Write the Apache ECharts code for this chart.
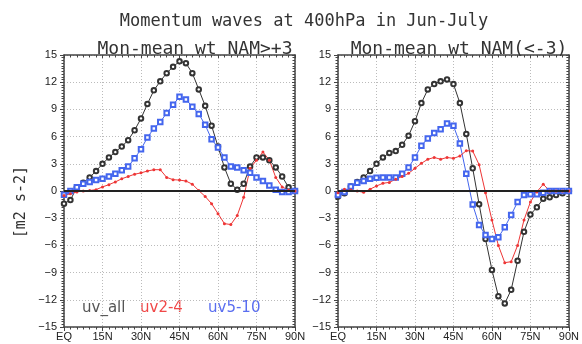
<!DOCTYPE html>
<html>
<head>
<meta charset="utf-8">
<title>Momentum waves at 400hPa</title>
<script src="https://cdn.jsdelivr.net/npm/echarts@6/dist/echarts.min.js"></script>
<style>
  html, body { margin: 0; padding: 0; background: #fff; }
  #chart { width: 582px; height: 344px; }
</style>
</head>
<body>
<div id="chart"></div>
<script>
// latitudes (2.5 deg grid)
var lats = [0, 2.5, 5, 7.5, 10, 12.5, 15, 17.5, 20, 22.5, 25, 27.5, 30, 32.5, 35, 37.5, 40, 42.5, 45,
  47.5, 50, 52.5, 55, 57.5, 60, 62.5, 65, 67.5, 70, 72.5, 75, 77.5, 80, 82.5, 85, 87.5, 90]
var xTickLabels = ['EQ', '15N', '30N', '45N', '60N', '75N', '90N']
var yTicks = [-15, -12, -9, -6, -3, 0, 3, 6, 9, 12, 15]

// left panel: NAM > +3
var posAll = [-1.4, -1.0, 0.4, 0.9, 1.5, 2.2, 3.0, 3.7, 4.3, 4.9, 5.6, 6.7, 8.0, 9.6, 11.1, 12.1, 13.0, 13.7, 14.3,
  14.1, 13.0, 11.2, 9.4, 7.2, 4.9, 2.6, 0.8, 0.15, 0.8, 2.7, 3.7, 3.7, 3.4, 2.6, 1.6, 0.4, 0]
var pos24 = [-0.5, -0.3, -0.1, 0, 0.05, 0.15, 0.45, 0.7, 1.0, 1.35, 1.6, 1.85, 2.0, 2.2, 2.35, 2.35, 1.5, 1.25, 1.2,
  1.1, 0.75, 0.05, -0.6, -1.4, -2.5, -3.6, -3.7, -2.7, -0.7, 2.5, 3.4, 4.3, 3.4, 1.5, 0.45, 0.1, 0]
var pos510 = [-0.4, 0, 0.4, 0.8, 1.0, 1.2, 1.35, 1.6, 1.9, 2.3, 2.7, 3.6, 4.6, 5.9, 6.9, 7.6, 8.6, 9.5, 10.4,
  10.1, 9.3, 8.5, 7.3, 5.7, 4.8, 3.7, 2.7, 2.6, 2.3, 2.0, 1.5, 1.1, 0.6, 0.15, -0.1, -0.1, 0]

// right panel: NAM < -3
var negAll = [-0.6, -0.25, 0.5, 1.0, 1.5, 2.2, 3.0, 3.7, 4.2, 4.4, 5.1, 6.1, 7.7, 9.7, 11.2, 11.8, 12.1, 12.3, 11.8,
  9.7, 6.3, 2.5, -1.45, -5.3, -8.7, -11.6, -12.4, -10.9, -7.7, -4.5, -2.6, -1.8, -0.85, -0.7, -0.45, -0.25, 0]
var neg24 = [-0.2, 0.2, 0.1, 0, -0.15, 0.2, 0.55, 0.85, 0.95, 1.3, 1.6, 1.95, 2.5, 3.05, 3.5, 3.7, 3.5, 3.7, 3.6,
  3.85, 4.45, 4.4, 2.9, -0.2, -3.2, -6.0, -7.9, -7.8, -6.0, -3.2, -1.2, -0.1, 0.75, 0, 0, 0, 0]
var neg510 = [-0.45, -0.1, 0.5, 0.9, 1.1, 1.35, 1.45, 1.5, 1.5, 1.5, 1.9, 2.6, 3.7, 5.0, 5.8, 6.4, 6.8, 7.45, 7.2,
  5.25, 1.9, -1.5, -3.75, -4.85, -5.3, -5.1, -4.0, -2.65, -1.2, -0.45, -0.35, -0.35, -0.2, 0, 0, 0, 0]

var myChart = echarts.init(document.getElementById('chart'))

var titleFont = 'DejaVu Sans Mono'
var fontFam = 'DejaVu Sans'
var axisColor = '#444'
var gridColor = '#bbb'
var cAll = '#333333', c24 = '#ee3535', c510 = '#4466ee'

function pairs(vals) {
  return lats.map(function (lat, i) { return [lat, vals[i]] })
}

function xAx(gi, top) {
  return {
    type: 'value', gridIndex: gi, min: 0, max: 90, interval: 15,
    position: top ? 'top' : 'bottom',
    axisLine: { show: true, onZero: false, lineStyle: { color: axisColor, width: 1.5 } },
    axisTick: { show: true, inside: !!top, length: top ? 3 : 4, lineStyle: { color: axisColor } },
    minorTick: { show: true, splitNumber: 6, length: 2.5, lineStyle: { color: axisColor } },
    axisLabel: {
      show: !top, margin: 4, color: '#222', fontFamily: 'Liberation Sans', fontSize: 11,
      formatter: function (v) { return xTickLabels[Math.round(v / 15)] }
    },
    splitLine: { show: !top, lineStyle: { color: gridColor, type: [1, 2] } }
  }
}

function yAx(gi, right) {
  return {
    type: 'value', gridIndex: gi, min: -15, max: 15, interval: 3,
    position: right ? 'right' : 'left',
    axisLine: { show: true, onZero: false, lineStyle: { color: axisColor, width: 1.5 } },
    axisTick: { show: true, inside: !!right, length: right ? 3 : 4, lineStyle: { color: axisColor } },
    minorTick: { show: true, splitNumber: 10, length: 2.5, lineStyle: { color: axisColor } },
    axisLabel: {
      show: !right, margin: 7, color: '#222', fontFamily: 'Liberation Sans', fontSize: 11,
      formatter: function (v) { return yTicks.indexOf(v) >= 0 ? String(v).replace('-', '\u2212') : '' }
    },
    splitLine: { show: !right, lineStyle: { color: gridColor, type: [1, 2] } }
  }
}

function panelSeries(ax, all, w24, w510) {
  var base = { type: 'line', xAxisIndex: ax, yAxisIndex: ax, animation: false, lineStyle: { width: 1 } }
  return [
    Object.assign({}, base, {
      name: 'uv_all', data: pairs(all), color: cAll, symbol: 'emptyCircle', symbolSize: 4.5,
      itemStyle: { borderWidth: 1 },
      markLine: {
        silent: true, symbol: 'none', label: { show: false },
        lineStyle: { color: '#222', width: 2, type: 'solid' },
        data: [{ yAxis: 0 }]
      }
    }),
    Object.assign({}, base, {
      name: 'uv5-10', data: pairs(w510), color: c510, symbol: 'emptyRect', symbolSize: 4.5,
      itemStyle: { borderWidth: 1 }
    }),
    Object.assign({}, base, { name: 'uv2-4', data: pairs(w24), color: c24, symbol: 'circle', symbolSize: 3 })
  ]
}

var option = {
  backgroundColor: '#fff',
  title: [
    { text: 'Momentum waves at 400hPa in Jun-July', left: 299, top: 8, textAlign: 'center',
      textStyle: { fontFamily: titleFont, fontSize: 17, fontWeight: 'normal', color: '#333' } },
    { text: 'Mon-mean wt NAM>+3', left: 190, top: 35, textAlign: 'center',
      textStyle: { fontFamily: titleFont, fontSize: 18, fontWeight: 'normal', color: '#333' } },
    { text: 'Mon-mean wt NAM(<-3)', left: 454, top: 35, textAlign: 'center',
      textStyle: { fontFamily: titleFont, fontSize: 18, fontWeight: 'normal', color: '#333' } }
  ],
  grid: [
    { left: 64, top: 55, width: 231, height: 272 },
    { left: 338, top: 55, width: 231, height: 272 }
  ],
  xAxis: [xAx(0, false), xAx(1, false), xAx(0, true), xAx(1, true)],
  yAxis: [yAx(0, false), yAx(1, false), yAx(0, true), yAx(1, true)],
  graphic: [
    { type: 'text', left: 14, top: 166, rotation: Math.PI / 2,
      style: { text: '[m2 s-2]', fontFamily: titleFont, fontSize: 15, fill: '#333' } },
    { type: 'text', left: 82, top: 301, style: { text: 'uv_all', fontFamily: fontFam, fontSize: 15, fill: '#555' } },
    { type: 'text', left: 140, top: 301, style: { text: 'uv2-4', fontFamily: fontFam, fontSize: 15, fill: '#f04848' } },
    { type: 'text', left: 208, top: 301, style: { text: 'uv5-10', fontFamily: fontFam, fontSize: 15, fill: '#5a6ef0' } }
  ],
  series: panelSeries(0, posAll, pos24, pos510).concat(panelSeries(1, negAll, neg24, neg510))
}

myChart.setOption(option, true)
</script>
</body>
</html>
